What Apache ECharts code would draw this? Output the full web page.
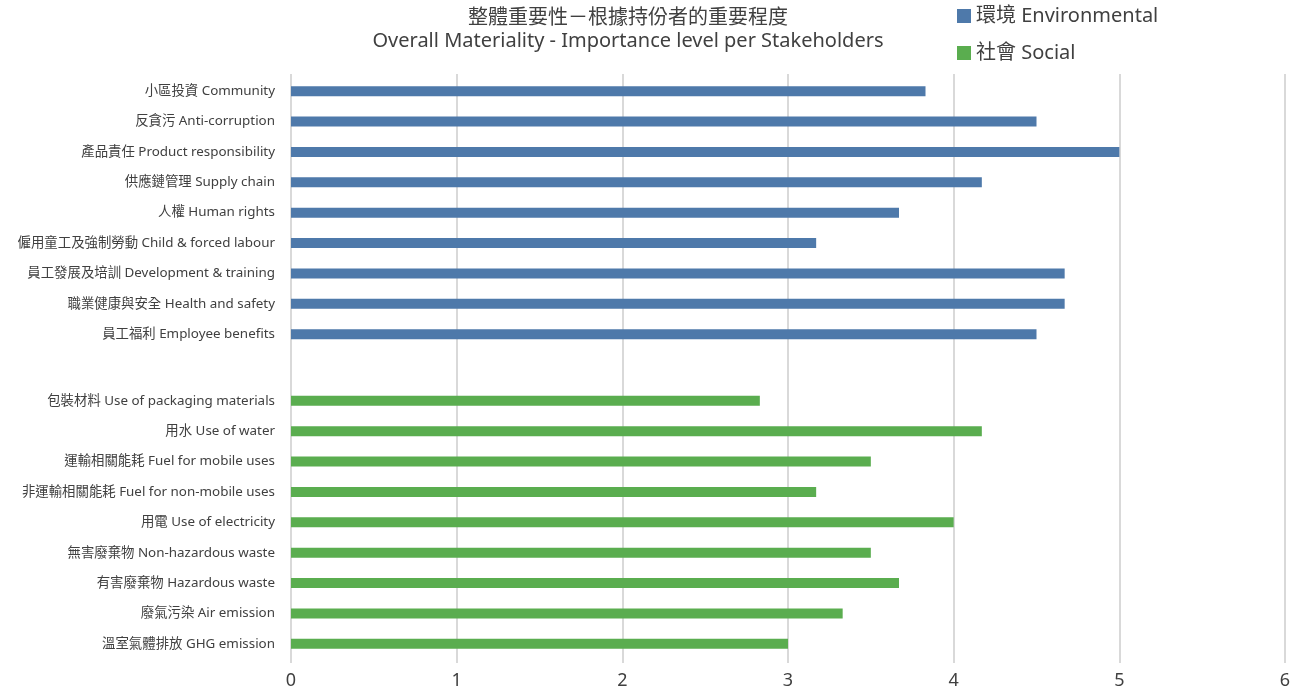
<!DOCTYPE html>
<html>
<head>
<meta charset="utf-8">
<script src="https://cdn.jsdelivr.net/npm/echarts@6/dist/echarts.min.js"></script>
<style>
  html, body { margin: 0; padding: 0; background: #fff; }
  #chart { width: 1304px; height: 693px; }
</style>
</head>
<body>
<div id="chart"></div>
<script>
// categories, top to bottom (blank row separates the two groups)
const categories = [
  '小區投資 Community',
  '反貪污 Anti-corruption',
  '產品責任 Product responsibility',
  '供應鏈管理 Supply chain',
  '人權 Human rights',
  '僱用童工及強制勞動 Child & forced labour',
  '員工發展及培訓 Development & training',
  '職業健康與安全 Health and safety',
  '員工福利 Employee benefits',
  '',
  '包裝材料 Use of packaging materials',
  '用水 Use of water',
  '運輸相關能耗 Fuel for mobile uses',
  '非運輸相關能耗 Fuel for non-mobile uses',
  '用電 Use of electricity',
  '無害廢棄物 Non-hazardous waste',
  '有害廢棄物 Hazardous waste',
  '廢氣污染 Air emission',
  '溫室氣體排放 GHG emission'
]

const envValues = [3.83, 4.5, 5.0, 4.17, 3.67, 3.17, 4.67, 4.67, 4.5,
  null, null, null, null, null, null, null, null, null, null]
const socialValues = [null, null, null, null, null, null, null, null, null,
  null, 2.83, 4.17, 3.5, 3.17, 4.0, 3.5, 3.67, 3.33, 3.0]

const xTicks = [0, 1, 2, 3, 4, 5, 6]

const chart = echarts.init(document.getElementById('chart'))
const font = '"Noto Sans", "Noto Sans CJK TC", sans-serif'

chart.setOption({
  animation: false,
  textStyle: { fontFamily: font },
  title: {
    text: '整體重要性－根據持份者的重要程度\nOverall Materiality - Importance level per Stakeholders',
    left: 623,
    textAlign: 'center',
    top: 2,
    textStyle: { fontSize: 20, fontWeight: 'normal', color: '#404040', lineHeight: 23, fontFamily: font }
  },
  legend: {
    orient: 'vertical',
    left: 952,
    top: 1,
    itemWidth: 14,
    itemHeight: 14,
    itemGap: 17,
    icon: 'rect',
    textStyle: { fontSize: 20, color: '#404040', fontFamily: font },
    data: ['環境 Environmental', '社會 Social']
  },
  grid: [
    // gridlines + x labels
    { left: 291, right: 19, top: 74, bottom: 30 },
    // bars + category labels
    { left: 291, right: 19, top: 79, bottom: 37 }
  ],
  xAxis: [{
    gridIndex: 0,
    type: 'value',
    min: xTicks[0],
    max: xTicks[xTicks.length - 1],
    interval: 1,
    axisLine: { show: false },
    axisTick: { show: false },
    axisLabel: { fontSize: 18, color: '#404040', margin: 9 },
    splitLine: { lineStyle: { color: '#d9d9d9', width: 2 } }
  }, {
    gridIndex: 1,
    type: 'value',
    min: xTicks[0],
    max: xTicks[xTicks.length - 1],
    show: false
  }],
  yAxis: [{
    gridIndex: 0,
    type: 'category',
    data: categories,
    show: false
  }, {
    gridIndex: 1,
    type: 'category',
    inverse: true,
    data: categories,
    axisLine: { show: false },
    axisTick: { show: false },
    axisLabel: {
      fontSize: 13.4,
      color: '#404040',
      margin: 16,
      interval: 0,
      // keep each label level with its bar
      formatter: function (v, i) {
        if (!v) return ''
        return i < 9 ? '{up|' + v + '}' : '{dn|' + v + '}'
      },
      rich: {
        up: { fontSize: 13.4, color: '#404040', padding: [0, 0, 6, 0] },
        dn: { fontSize: 13.4, color: '#404040', padding: [6, 0, 0, 0] }
      }
    }
  }],
  series: [{
    name: '環境 Environmental',
    type: 'bar',
    xAxisIndex: 1,
    yAxisIndex: 1,
    data: envValues,
    barWidth: 10,
    barGap: '-40%',
    itemStyle: { color: '#4e79aa' }
  }, {
    name: '社會 Social',
    type: 'bar',
    xAxisIndex: 1,
    yAxisIndex: 1,
    data: socialValues,
    barWidth: 10,
    barGap: '-40%',
    itemStyle: { color: '#5aad4f' }
  }]
})
</script>
</body>
</html>
